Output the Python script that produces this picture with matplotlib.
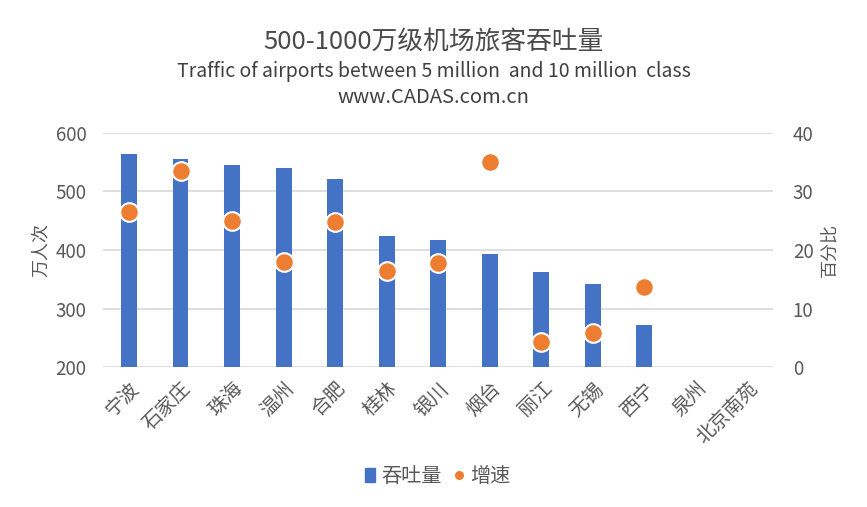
import numpy as np
import matplotlib
matplotlib.use("Agg")
import matplotlib.pyplot as plt
from matplotlib.lines import Line2D
from matplotlib.patches import Patch

plt.rcParams['font.family'] = ['Noto Sans CJK SC', 'DejaVu Sans']

airports = ['宁波', '石家庄', '珠海', '温州', '合肥', '桂林', '银川', '烟台',
            '丽江', '无锡', '西宁', '泉州', '北京南苑']
traffic = [564, 556, 545, 540, 521, 424, 417, 393, 362, 342, 272, np.nan, np.nan]
growth = [26.5, 33.5, 25.0, 18.0, 24.8, 16.4, 17.8, 35.0, 4.3, 5.8, 13.7, np.nan, np.nan]

blue = '#4472C4'
orange = '#ED7D31'
grey = '#595959'

fig = plt.figure(figsize=(8.67, 5.07), dpi=100)
ax1 = fig.add_axes([0.119, 0.276, 0.773, 0.462])
ax2 = ax1.twinx()

x = np.arange(len(airports))
ax1.bar(x, np.array(traffic) - 200, bottom=200, width=0.31, color=blue, zorder=2)
ax2.scatter(x, growth, s=180, color=orange, edgecolors='white', linewidths=1.5, zorder=3)

ax1.set_xlim(-0.5, len(airports) - 0.5)
ax1.set_ylim(200, 600)
ax2.set_ylim(0, 40)
ax1.set_yticks([200, 300, 400, 500, 600])
ax2.set_yticks([0, 10, 20, 30, 40])
ax1.grid(axis='y', color='#d9d9d9', linewidth=1.2, zorder=0)
ax1.set_axisbelow(True)

for a in (ax1, ax2):
    for s in a.spines.values():
        s.set_visible(False)
    a.tick_params(length=0, labelsize=13.5, colors=grey)
ax1.tick_params(axis='y', pad=12)
ax2.tick_params(axis='y', pad=14)

ax1.set_xticks(x)
ax1.set_xticklabels(airports, rotation=45, ha='right', rotation_mode='anchor', fontsize=14)
ax1.tick_params(axis='x', pad=8)

ax1.set_ylabel('万人次', fontsize=13, color=grey, labelpad=4)
ax2.set_ylabel('百分比', fontsize=13, color=grey, labelpad=6)

fig.text(0.5, 0.918, '500-1000万级机场旅客吞吐量', ha='center', va='center', fontsize=18.5, color='#4a4a4a')
fig.text(0.5, 0.858, 'Traffic of airports between 5 million  and 10 million  class',
         ha='center', va='center', fontsize=14, color='#404040')
fig.text(0.5, 0.808, 'www.CADAS.com.cn', ha='center', va='center', fontsize=14.5, color='#404040')

handles = [Patch(color=blue, label='吞吐量'),
           Line2D([], [], marker='o', linestyle='none', markersize=7.5, color=orange,
                  markeredgecolor='white', label='增速')]
fig.legend(handles=handles, loc='center', bbox_to_anchor=(0.505, 0.06), ncol=2, frameon=False,
           fontsize=14.5, handlelength=0.5, handletextpad=0.3, columnspacing=0.6, labelcolor=grey)

fig.savefig('out.png', dpi=100)
